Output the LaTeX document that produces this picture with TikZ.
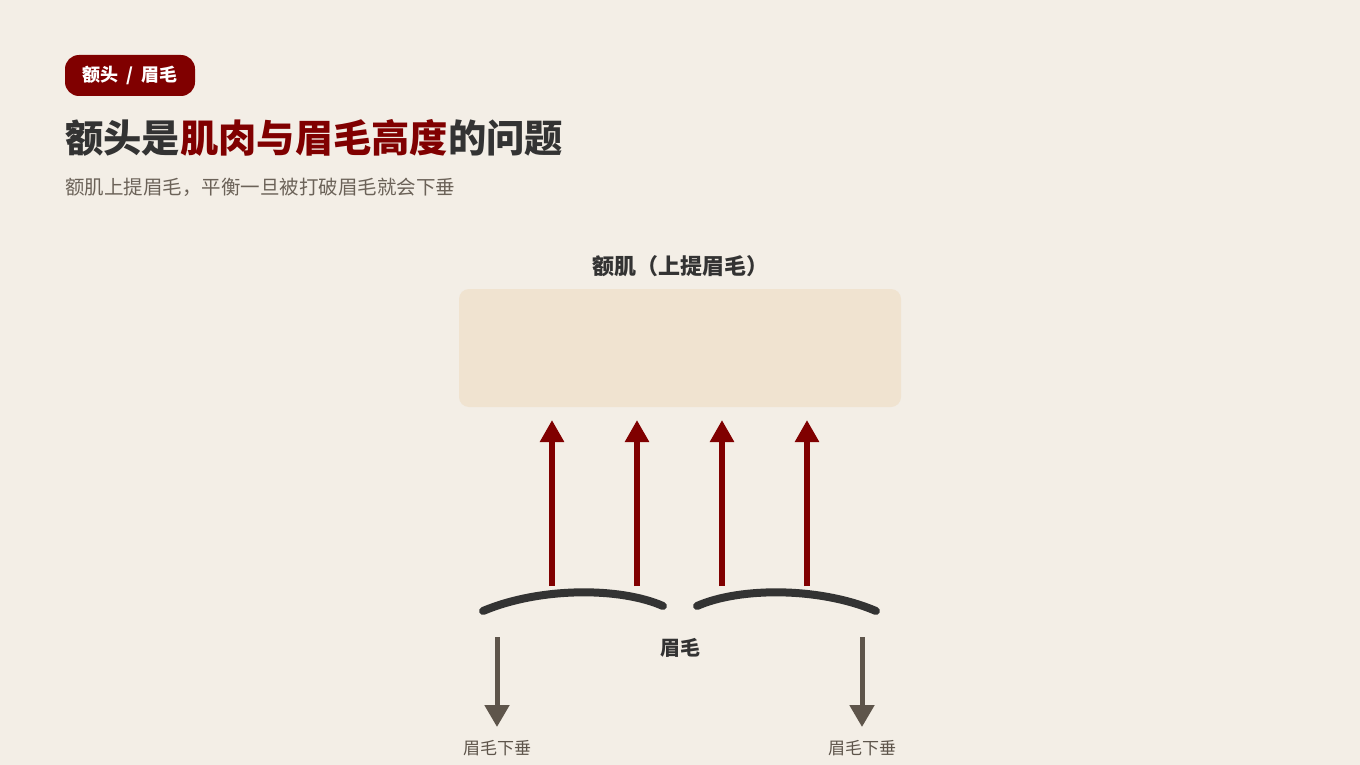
\documentclass[tikz,border=0pt]{standalone}
\usepackage{fontspec}
\setmainfont{Noto Sans CJK SC}
\usetikzlibrary{arrows.meta,positioning}

\definecolor{bgpaper}{HTML}{F3EEE6}
\definecolor{muscle}{HTML}{F0E3D0}
\definecolor{deepred}{HTML}{800000}
\definecolor{inkdark}{HTML}{333333}
\definecolor{inkbrown}{HTML}{5E554B}
\definecolor{subgray}{HTML}{6B6258}

\begin{document}
\begin{tikzpicture}[x=1pt, y=-1pt,
		% Styles
		tag/.style={rectangle, rounded corners=14pt, fill=deepred, text=white, font=\fontsize{18}{20}\selectfont\bfseries, minimum width=130pt, minimum height=41pt, inner sep=0pt},
		headline/.style={anchor=west, inner sep=0pt, text=inkdark, font=\fontsize{38.3}{44}\selectfont\bfseries},
		subline/.style={anchor=west, inner sep=0pt, text=subgray, font=\fontsize{19.5}{22}\selectfont},
		musclebox/.style={rectangle, rounded corners=10pt, fill=muscle, minimum width=442pt, minimum height=118pt, inner sep=0pt},
		label/.style={inner sep=0pt, text=inkdark, font=\fontsize{20}{24}\selectfont\bfseries},
		droplabel/.style={inner sep=0pt, text=inkbrown, font=\fontsize{17}{20}\selectfont},
		% Arrows
		lift/.style={-{Triangle[length=22pt, width=23pt]}, line width=5.5pt, deepred},
		droop/.style={-{Triangle[length=22pt, width=24pt]}, line width=5pt, inkbrown},
		brow/.style={line width=8pt, line cap=round, inkdark},
		]

		% Background
		\fill[bgpaper] (0,0) rectangle (1360,765);

		% Tag
		\node[tag] (tag) at (130,75.5) {额头\hspace{8pt}/\hspace{8pt}眉毛};

		% Title
		\node[headline] (title) at (65,138) {额头是{\color{deepred}肌肉与眉毛高度}的问题};
		\node[subline] (subtitle) at (65,187) {额肌上提眉毛，平衡一旦被打破眉毛就会下垂};

		% Frontalis
		\node[label, font=\fontsize{22}{26}\selectfont\bfseries] (musclelabel) at (680,266) {额肌（上提眉毛）};
		\node[musclebox] (muscle) at (680,348) {};

		% Eyebrows
		\coordinate (browLa) at (483,611);
		\coordinate (browLb) at (663,606);
		\coordinate (browRa) at (697,606);
		\coordinate (browRb) at (876,611);
		\draw[brow] (browLa) .. controls (540,587) and (620,587) .. (browLb);
		\draw[brow] (browRa) .. controls (740,587) and (820,587) .. (browRb);
		\node[label] (browlabel) at (680,648) {眉毛};

		% Lifting pull
		\foreach \x [count=\i] in {552,637,722,807} {
			\coordinate (pull\i) at (\x,586);
			\coordinate (top\i) at (\x,420);
			\draw[lift] (pull\i) -- (top\i);
		}

		% Droop
		\coordinate (dropL) at (497,637);
		\coordinate (dropR) at (862,637);
		\node[droplabel] (sagL) at (497,748) {眉毛下垂};
		\node[droplabel] (sagR) at (862,748) {眉毛下垂};
		\draw[droop] (dropL) -- ([yshift=13pt]sagL.north);
		\draw[droop] (dropR) -- ([yshift=13pt]sagR.north);

	\end{tikzpicture}
\end{document}
